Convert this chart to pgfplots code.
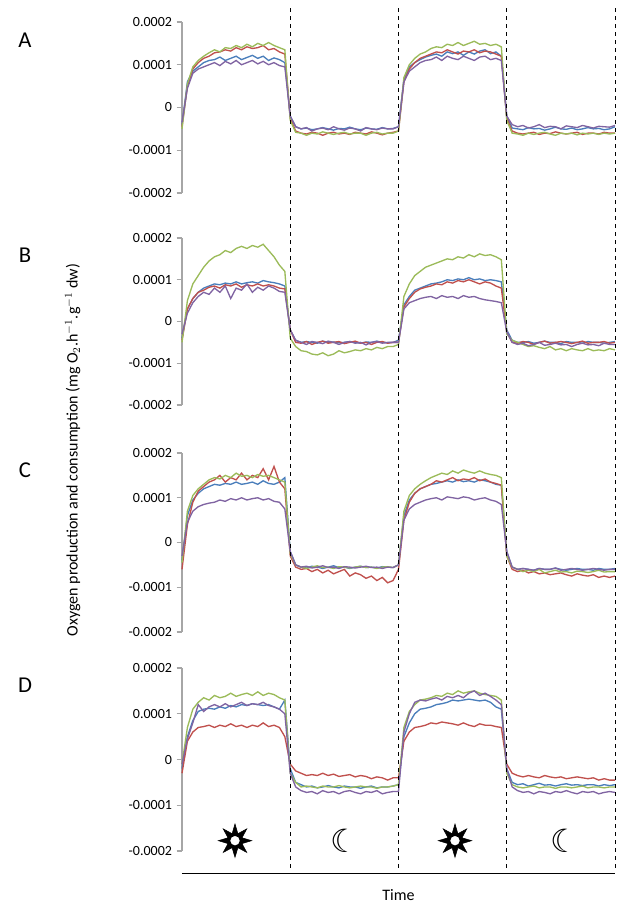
\documentclass[border=0pt]{standalone}
\usepackage{pgfplots}
\pgfplotsset{compat=1.18}
\usetikzlibrary{shapes.geometric}
\usepackage{fontspec}
\setmainfont{Carlito}
\newfontfamily\dejavu{DejaVu Sans}
\definecolor{cb}{RGB}{74,126,187}
\definecolor{cr}{RGB}{192,80,77}
\definecolor{cg}{RGB}{155,187,89}
\definecolor{cp}{RGB}{128,100,162}
\pgfplotsset{
  panel/.style={width=324.75pt, scale only axis, xmin=0, xmax=4, ymin=-2, ymax=2,
    axis x line=none, axis y line*=left, anchor=north west,
    y axis line style={gray!70, line width=0.8pt}, ytick style={gray!70, line width=0.8pt},
    tick align=outside, major tick length=4pt,
    ytick={-2,-1,0,1,2}, yticklabels={-0.0002,-0.0001,0,0.0001,0.0002},
    yticklabel style={font=\fontsize{10.5}{12}\selectfont}, clip=false,
    every axis plot/.append style={line width=1pt, no marks}},
}
\newcommand{\ser}[2]{\addplot[#1] table[header=false, row sep=\\, x expr=\coordindex/20, y index=0] {#2};}
\begin{document}
\begin{tikzpicture}
\useasboundingbox (-136.5pt,16.5pt) rectangle (328.5pt,-663.75pt);
% A
\begin{axis}[panel, at={(0pt,0pt)}, height=128.25pt]
\ser{cb}{-0.4\\0.6\\0.85\\0.95\\1.05\\1.1\\1.12\\1.18\\1.1\\1.15\\1.2\\1.12\\1.17\\1.22\\1.15\\1.2\\1.1\\1.16\\1.12\\1.05\\-0.2\\-0.45\\-0.5\\-0.48\\-0.52\\-0.5\\-0.47\\-0.5\\-0.53\\-0.49\\-0.5\\-0.46\\-0.5\\-0.52\\-0.48\\-0.5\\-0.51\\-0.47\\-0.5\\-0.49\\-0.45\\0.65\\0.95\\1.05\\1.12\\1.18\\1.22\\1.25\\1.2\\1.3\\1.26\\1.3\\1.22\\1.3\\1.25\\1.32\\1.35\\1.26\\1.3\\1.2\\-0.2\\-0.48\\-0.5\\-0.52\\-0.47\\-0.5\\-0.49\\-0.53\\-0.5\\-0.46\\-0.5\\-0.51\\-0.48\\-0.52\\-0.5\\-0.47\\-0.5\\-0.49\\-0.52\\-0.5\\-0.45\\}
\ser{cr}{-0.45\\0.5\\0.9\\1.05\\1.15\\1.2\\1.28\\1.3\\1.35\\1.32\\1.4\\1.35\\1.42\\1.38\\1.4\\1.45\\1.35\\1.38\\1.3\\1.25\\-0.25\\-0.55\\-0.6\\-0.62\\-0.58\\-0.6\\-0.65\\-0.6\\-0.58\\-0.62\\-0.6\\-0.63\\-0.58\\-0.6\\-0.62\\-0.57\\-0.6\\-0.64\\-0.6\\-0.58\\-0.55\\0.6\\0.9\\1.05\\1.15\\1.2\\1.25\\1.3\\1.28\\1.35\\1.3\\1.25\\1.32\\1.3\\1.35\\1.28\\1.32\\1.3\\1.25\\1.2\\-0.25\\-0.55\\-0.6\\-0.62\\-0.6\\-0.58\\-0.63\\-0.6\\-0.61\\-0.57\\-0.6\\-0.62\\-0.6\\-0.58\\-0.63\\-0.6\\-0.6\\-0.62\\-0.58\\-0.6\\-0.6\\}
\ser{cg}{-0.5\\0.55\\0.95\\1.1\\1.2\\1.28\\1.35\\1.3\\1.4\\1.38\\1.45\\1.4\\1.48\\1.42\\1.5\\1.45\\1.52\\1.45\\1.4\\1.35\\-0.3\\-0.58\\-0.6\\-0.65\\-0.6\\-0.62\\-0.57\\-0.6\\-0.63\\-0.6\\-0.58\\-0.62\\-0.6\\-0.6\\-0.65\\-0.6\\-0.58\\-0.62\\-0.6\\-0.6\\-0.55\\0.7\\1.0\\1.15\\1.25\\1.3\\1.38\\1.42\\1.4\\1.48\\1.45\\1.52\\1.45\\1.5\\1.55\\1.48\\1.5\\1.45\\1.48\\1.42\\-0.3\\-0.6\\-0.62\\-0.65\\-0.6\\-0.63\\-0.6\\-0.58\\-0.62\\-0.65\\-0.6\\-0.62\\-0.6\\-0.64\\-0.6\\-0.62\\-0.6\\-0.63\\-0.6\\-0.62\\-0.6\\}
\ser{cp}{-0.35\\0.45\\0.8\\0.9\\0.95\\1.0\\1.05\\0.98\\1.08\\1.02\\1.1\\1.0\\1.05\\1.1\\1.02\\1.08\\1.0\\1.05\\0.98\\0.95\\-0.2\\-0.45\\-0.5\\-0.47\\-0.55\\-0.5\\-0.48\\-0.52\\-0.45\\-0.5\\-0.53\\-0.48\\-0.5\\-0.55\\-0.47\\-0.5\\-0.52\\-0.48\\-0.5\\-0.5\\-0.45\\0.6\\0.85\\0.95\\1.05\\1.1\\1.12\\1.18\\1.1\\1.2\\1.15\\1.12\\1.2\\1.15\\1.1\\1.18\\1.2\\1.12\\1.15\\1.1\\-0.2\\-0.4\\-0.45\\-0.42\\-0.48\\-0.45\\-0.4\\-0.47\\-0.44\\-0.45\\-0.5\\-0.43\\-0.45\\-0.47\\-0.42\\-0.45\\-0.48\\-0.44\\-0.45\\-0.46\\-0.42\\}
\end{axis}
% B
\begin{axis}[panel, at={(0pt,-162pt)}, height=125.25pt]
\ser{cb}{-0.4\\0.3\\0.55\\0.7\\0.8\\0.85\\0.9\\0.88\\0.92\\0.9\\0.95\\0.9\\0.93\\0.95\\0.92\\0.98\\0.95\\0.93\\0.9\\0.85\\-0.2\\-0.45\\-0.5\\-0.48\\-0.5\\-0.52\\-0.47\\-0.5\\-0.49\\-0.51\\-0.5\\-0.48\\-0.5\\-0.52\\-0.49\\-0.5\\-0.47\\-0.5\\-0.51\\-0.5\\-0.45\\0.4\\0.6\\0.75\\0.8\\0.85\\0.9\\0.92\\0.95\\1.0\\0.98\\1.02\\1.0\\1.05\\1.0\\1.02\\0.98\\1.0\\0.98\\0.95\\-0.2\\-0.45\\-0.5\\-0.5\\-0.48\\-0.52\\-0.5\\-0.47\\-0.5\\-0.5\\-0.53\\-0.48\\-0.5\\-0.5\\-0.52\\-0.48\\-0.5\\-0.5\\-0.52\\-0.5\\-0.48\\}
\ser{cr}{-0.45\\0.3\\0.55\\0.7\\0.75\\0.82\\0.85\\0.8\\0.88\\0.85\\0.9\\0.82\\0.88\\0.85\\0.9\\0.85\\0.88\\0.85\\0.8\\0.78\\-0.2\\-0.5\\-0.52\\-0.48\\-0.55\\-0.5\\-0.47\\-0.52\\-0.5\\-0.48\\-0.53\\-0.5\\-0.47\\-0.52\\-0.5\\-0.55\\-0.5\\-0.48\\-0.52\\-0.5\\-0.5\\0.35\\0.55\\0.7\\0.78\\0.82\\0.85\\0.9\\0.88\\0.95\\0.92\\0.98\\0.95\\1.0\\0.95\\0.9\\0.95\\0.92\\0.85\\0.8\\-0.25\\-0.5\\-0.52\\-0.48\\-0.5\\-0.55\\-0.5\\-0.47\\-0.52\\-0.5\\-0.48\\-0.5\\-0.53\\-0.5\\-0.47\\-0.52\\-0.5\\-0.5\\-0.48\\-0.52\\-0.5\\}
\ser{cg}{-0.5\\0.5\\0.9\\1.1\\1.3\\1.45\\1.55\\1.6\\1.7\\1.65\\1.75\\1.8\\1.75\\1.82\\1.78\\1.85\\1.7\\1.55\\1.35\\1.2\\-0.4\\-0.6\\-0.7\\-0.72\\-0.78\\-0.8\\-0.75\\-0.82\\-0.78\\-0.7\\-0.75\\-0.72\\-0.68\\-0.7\\-0.65\\-0.68\\-0.62\\-0.65\\-0.6\\-0.6\\-0.55\\0.6\\0.9\\1.1\\1.2\\1.3\\1.35\\1.4\\1.45\\1.5\\1.48\\1.55\\1.52\\1.6\\1.55\\1.62\\1.58\\1.6\\1.55\\1.48\\-0.3\\-0.45\\-0.5\\-0.55\\-0.6\\-0.58\\-0.62\\-0.65\\-0.6\\-0.68\\-0.65\\-0.7\\-0.65\\-0.68\\-0.7\\-0.65\\-0.7\\-0.68\\-0.7\\-0.65\\-0.68\\}
\ser{cp}{-0.3\\0.2\\0.45\\0.6\\0.7\\0.65\\0.8\\0.7\\0.85\\0.55\\0.8\\0.75\\0.9\\0.7\\0.82\\0.75\\0.85\\0.8\\0.72\\0.7\\-0.2\\-0.45\\-0.5\\-0.55\\-0.48\\-0.5\\-0.53\\-0.47\\-0.5\\-0.55\\-0.5\\-0.48\\-0.52\\-0.5\\-0.56\\-0.5\\-0.48\\-0.52\\-0.5\\-0.5\\-0.5\\0.3\\0.45\\0.5\\0.55\\0.58\\0.6\\0.55\\0.62\\0.58\\0.6\\0.55\\0.62\\0.58\\0.6\\0.55\\0.52\\0.5\\0.48\\0.45\\-0.25\\-0.5\\-0.55\\-0.52\\-0.58\\-0.55\\-0.5\\-0.57\\-0.55\\-0.52\\-0.56\\-0.55\\-0.6\\-0.55\\-0.52\\-0.56\\-0.55\\-0.58\\-0.52\\-0.55\\-0.55\\}
\end{axis}
% C
\begin{axis}[panel, at={(0pt,-323.25pt)}, height=134.25pt]
\ser{cb}{-0.4\\0.6\\0.95\\1.1\\1.2\\1.25\\1.3\\1.28\\1.32\\1.3\\1.35\\1.3\\1.32\\1.35\\1.3\\1.38\\1.32\\1.3\\1.35\\1.45\\-0.2\\-0.5\\-0.55\\-0.57\\-0.53\\-0.55\\-0.58\\-0.55\\-0.52\\-0.56\\-0.55\\-0.58\\-0.55\\-0.53\\-0.56\\-0.55\\-0.57\\-0.54\\-0.55\\-0.56\\-0.5\\0.6\\0.95\\1.1\\1.2\\1.25\\1.3\\1.32\\1.35\\1.38\\1.35\\1.4\\1.36\\1.38\\1.35\\1.4\\1.38\\1.35\\1.3\\1.28\\-0.2\\-0.55\\-0.6\\-0.58\\-0.6\\-0.62\\-0.58\\-0.6\\-0.6\\-0.57\\-0.6\\-0.62\\-0.6\\-0.58\\-0.6\\-0.6\\-0.62\\-0.58\\-0.6\\-0.6\\-0.58\\}
\ser{cr}{-0.6\\0.4\\0.9\\1.15\\1.25\\1.35\\1.4\\1.5\\1.35\\1.45\\1.4\\1.55\\1.4\\1.5\\1.45\\1.65\\1.4\\1.7\\1.35\\1.2\\-0.3\\-0.55\\-0.6\\-0.58\\-0.65\\-0.6\\-0.68\\-0.62\\-0.7\\-0.65\\-0.6\\-0.75\\-0.68\\-0.72\\-0.8\\-0.75\\-0.85\\-0.78\\-0.9\\-0.85\\-0.6\\0.5\\0.9\\1.1\\1.2\\1.25\\1.3\\1.38\\1.35\\1.4\\1.45\\1.38\\1.42\\1.4\\1.45\\1.38\\1.42\\1.35\\1.32\\1.28\\-0.3\\-0.6\\-0.65\\-0.62\\-0.68\\-0.65\\-0.7\\-0.68\\-0.72\\-0.7\\-0.68\\-0.72\\-0.75\\-0.7\\-0.73\\-0.75\\-0.72\\-0.78\\-0.75\\-0.78\\-0.75\\}
\ser{cg}{-0.45\\0.7\\1.05\\1.2\\1.3\\1.4\\1.45\\1.42\\1.5\\1.45\\1.55\\1.48\\1.5\\1.45\\1.52\\1.48\\1.5\\1.45\\1.4\\1.35\\-0.25\\-0.5\\-0.55\\-0.58\\-0.55\\-0.52\\-0.56\\-0.55\\-0.58\\-0.54\\-0.55\\-0.57\\-0.55\\-0.53\\-0.56\\-0.55\\-0.58\\-0.55\\-0.54\\-0.56\\-0.5\\0.7\\1.05\\1.2\\1.3\\1.38\\1.45\\1.5\\1.55\\1.52\\1.6\\1.55\\1.62\\1.58\\1.55\\1.6\\1.55\\1.52\\1.5\\1.45\\-0.3\\-0.55\\-0.6\\-0.65\\-0.62\\-0.65\\-0.6\\-0.68\\-0.65\\-0.62\\-0.66\\-0.65\\-0.68\\-0.64\\-0.65\\-0.67\\-0.65\\-0.62\\-0.66\\-0.65\\-0.65\\}
\ser{cp}{-0.3\\0.45\\0.7\\0.8\\0.85\\0.88\\0.9\\0.95\\0.92\\0.98\\0.95\\1.0\\0.95\\0.98\\1.0\\0.95\\0.98\\0.92\\0.9\\0.75\\-0.2\\-0.5\\-0.55\\-0.53\\-0.57\\-0.55\\-0.52\\-0.56\\-0.55\\-0.58\\-0.54\\-0.55\\-0.57\\-0.55\\-0.53\\-0.56\\-0.55\\-0.58\\-0.55\\-0.56\\-0.5\\0.5\\0.75\\0.85\\0.9\\0.95\\0.98\\1.0\\0.95\\1.02\\1.0\\0.98\\1.02\\1.0\\0.95\\0.98\\1.0\\0.95\\0.92\\0.85\\-0.2\\-0.55\\-0.6\\-0.58\\-0.6\\-0.62\\-0.58\\-0.6\\-0.6\\-0.57\\-0.62\\-0.6\\-0.58\\-0.6\\-0.62\\-0.6\\-0.58\\-0.6\\-0.62\\-0.6\\-0.6\\}
\end{axis}
% D
\begin{axis}[panel, at={(0pt,-484.5pt)}, height=137.25pt]
\ser{cb}{-0.2\\0.5\\0.85\\1.05\\1.1\\1.12\\1.1\\1.15\\1.12\\1.18\\1.15\\1.2\\1.18\\1.22\\1.2\\1.18\\1.2\\1.15\\1.1\\1.3\\-0.2\\-0.5\\-0.55\\-0.6\\-0.58\\-0.62\\-0.6\\-0.57\\-0.6\\-0.62\\-0.58\\-0.6\\-0.6\\-0.63\\-0.6\\-0.58\\-0.62\\-0.6\\-0.6\\-0.58\\-0.55\\0.5\\0.8\\1.0\\1.1\\1.12\\1.15\\1.2\\1.22\\1.25\\1.3\\1.28\\1.3\\1.32\\1.3\\1.28\\1.3\\1.25\\1.15\\1.1\\-0.2\\-0.5\\-0.55\\-0.53\\-0.58\\-0.55\\-0.52\\-0.56\\-0.55\\-0.58\\-0.55\\-0.53\\-0.56\\-0.55\\-0.57\\-0.55\\-0.55\\-0.58\\-0.55\\-0.57\\-0.55\\}
\ser{cr}{-0.3\\0.4\\0.6\\0.7\\0.72\\0.75\\0.7\\0.75\\0.72\\0.78\\0.72\\0.75\\0.7\\0.75\\0.72\\0.8\\0.72\\0.75\\0.7\\0.5\\-0.1\\-0.25\\-0.3\\-0.35\\-0.33\\-0.35\\-0.3\\-0.35\\-0.32\\-0.37\\-0.35\\-0.33\\-0.38\\-0.35\\-0.37\\-0.42\\-0.38\\-0.4\\-0.45\\-0.4\\-0.4\\0.4\\0.6\\0.7\\0.72\\0.75\\0.8\\0.78\\0.82\\0.8\\0.78\\0.75\\0.8\\0.75\\0.72\\0.78\\0.75\\0.75\\0.72\\0.7\\-0.1\\-0.3\\-0.35\\-0.38\\-0.35\\-0.38\\-0.4\\-0.35\\-0.38\\-0.4\\-0.38\\-0.42\\-0.4\\-0.38\\-0.4\\-0.42\\-0.4\\-0.45\\-0.42\\-0.45\\-0.45\\}
\ser{cg}{-0.1\\0.7\\1.1\\1.25\\1.35\\1.3\\1.4\\1.35\\1.38\\1.45\\1.38\\1.42\\1.45\\1.4\\1.48\\1.4\\1.45\\1.42\\1.35\\1.3\\-0.3\\-0.5\\-0.6\\-0.58\\-0.6\\-0.62\\-0.58\\-0.6\\-0.6\\-0.57\\-0.6\\-0.62\\-0.6\\-0.58\\-0.6\\-0.6\\-0.63\\-0.6\\-0.6\\-0.58\\-0.55\\0.7\\1.05\\1.2\\1.3\\1.32\\1.35\\1.4\\1.38\\1.45\\1.42\\1.5\\1.45\\1.48\\1.5\\1.45\\1.42\\1.4\\1.38\\1.3\\-0.3\\-0.55\\-0.6\\-0.62\\-0.6\\-0.58\\-0.62\\-0.6\\-0.6\\-0.63\\-0.6\\-0.6\\-0.62\\-0.6\\-0.58\\-0.62\\-0.6\\-0.6\\-0.62\\-0.6\\-0.6\\}
\ser{cp}{-0.1\\0.45\\0.8\\1.2\\1.05\\1.15\\1.2\\1.15\\1.22\\1.15\\1.2\\1.25\\1.18\\1.22\\1.2\\1.25\\1.18\\1.15\\1.1\\1.0\\-0.3\\-0.6\\-0.68\\-0.72\\-0.7\\-0.75\\-0.68\\-0.72\\-0.7\\-0.75\\-0.7\\-0.68\\-0.72\\-0.75\\-0.7\\-0.72\\-0.68\\-0.75\\-0.72\\-0.7\\-0.7\\0.6\\1.0\\1.25\\1.3\\1.28\\1.32\\1.35\\1.3\\1.38\\1.35\\1.4\\1.35\\1.45\\1.5\\1.4\\1.45\\1.38\\1.3\\1.2\\-0.2\\-0.6\\-0.68\\-0.72\\-0.7\\-0.75\\-0.7\\-0.72\\-0.75\\-0.7\\-0.72\\-0.68\\-0.72\\-0.75\\-0.7\\-0.72\\-0.7\\-0.75\\-0.72\\-0.7\\-0.72\\}
\end{axis}
% decorations
\foreach \k in {1,2,3,4}{
  \draw[black, dashed, line width=0.7pt] ({81.1875pt*\k},10.5pt) -- ({81.1875pt*\k},-635.25pt);
}
\draw[black, line width=0.6pt] (0pt,-638.25pt) -- (324.75pt,-638.25pt);
\node at (162.4pt,-655pt) {\fontsize{12}{14}\selectfont Time};
\node[rotate=90] at (-82pt,-321pt) {\fontsize{12}{14}\selectfont Oxygen production and consumption (mg O$_2$.h$^{-1}$.g$^{-1}$ dw)};
\foreach \l/\yy in {A/-13.5pt,B/-174.75pt,C/-336pt,D/-497.25pt}{
  \node at (-117.75pt,\yy) {\fontsize{17}{20}\selectfont \l};
}
\foreach \xx in {39.75pt,204.75pt}{
  \node[star, star points=8, star point ratio=2.2, fill=black, draw=black, minimum size=25pt, inner sep=0pt] at (\xx,-614pt) {};
  \node[circle, fill=white, draw=black, line width=1.2pt, minimum size=8.5pt, inner sep=0pt] at (\xx,-614pt) {};
}
\foreach \xx in {122.25pt,287.25pt}{
  \node at (\xx,-614pt) {\dejavu\fontsize{24}{28}\selectfont ☾};
}
\end{tikzpicture}
\end{document}
